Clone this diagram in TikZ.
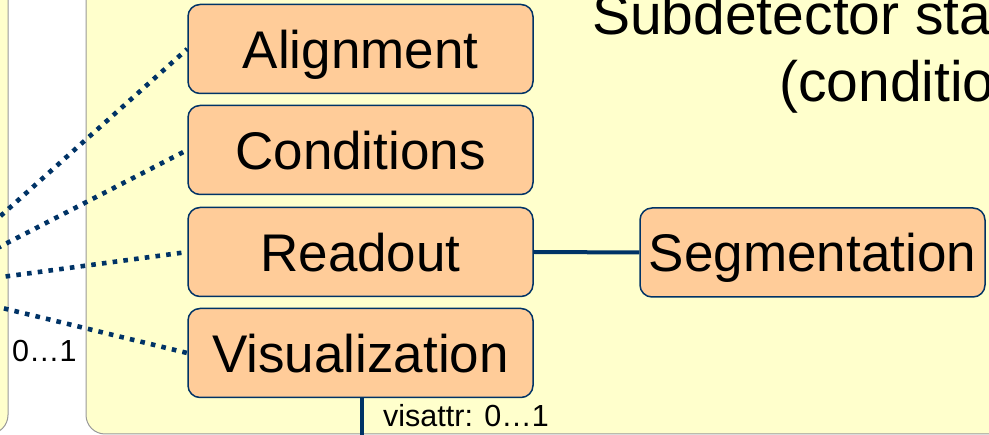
\documentclass[tikz,border=0pt]{standalone}
\usepackage{fontspec}
\setmainfont{Liberation Sans}
\definecolor{panelyellow}{HTML}{FFFFCC}
\definecolor{panelline}{HTML}{999999}
\definecolor{boxfill}{HTML}{FFCC99}
\definecolor{navy}{HTML}{003366}
\tikzset{
  panel/.style={fill=panelyellow, draw=panelline, line width=1pt, rounded corners=19pt},
  compbox/.style={rectangle, rounded corners=12pt, fill=boxfill, draw=navy, line width=1.5pt,
    minimum width=345pt, minimum height=89pt, inner sep=0pt,
    font=\fontsize{53}{60}\selectfont, text height=39pt, text depth=0pt},
  optlink/.style={draw=navy, line width=4.6pt, dash pattern=on 4.6pt off 6.2pt},
  solidlink/.style={draw=navy, line width=4pt},
  title/.style={font=\fontsize{57}{66}\selectfont, anchor=base west, inner sep=0pt},
  mult/.style={font=\fontsize{30.5}{36}\selectfont, anchor=base west, inner sep=0pt}
}
\begin{document}
\begin{tikzpicture}[x=1pt, y=-1pt]
\useasboundingbox (0,0) rectangle (989,435);
\clip (0,0) rectangle (989,435);

% background panels
\draw[panel] (-300,-60) rectangle (8,434);
\draw[panel] (86,-60) rectangle (1300,434);

% heading of the right panel
\node[title] (head1) at (592,35) {Subdetector state};
\node[title] (head2) at (779,102) {(conditions)};

% component boxes
\node[compbox] (align) at (360.5,49)  {Alignment};
\node[compbox] (cond)  at (360.5,150) {Conditions};
\node[compbox] (read)  at (360.5,252) {Readout};
\node[compbox] (vis)   at (360.5,353) {Visualization};
\node[compbox] (seg)   at (812.5,252.5) {Segmentation};

% optional links from the detector element on the left
\coordinate (hub) at (-80,288);
\draw[optlink] (hub) -- (align.west);
\draw[optlink] (hub) -- (cond.west);
\draw[optlink] (hub) -- (read.west);
\draw[optlink] (hub) -- (vis.west);

% solid links
\draw[solidlink] (read.east) -- (seg.west);
\coordinate (visdown) at ([xshift=1.5pt]vis.south |- 0,450);
\draw[solidlink] ([xshift=1.5pt]vis.south) -- (visdown);

% multiplicities
\node[mult] (m1) at (12,362) {0…1};
\node[mult] (m2) at (383,427) {visattr: 0…1};
\end{tikzpicture}
\end{document}
